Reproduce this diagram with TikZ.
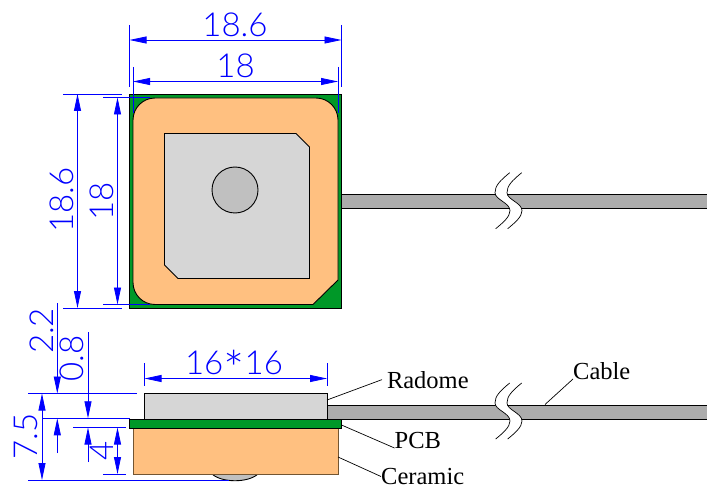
\documentclass[tikz,border=0pt]{standalone}
\usepackage{fontspec}
\newfontfamily\labelfont{Liberation Serif}
\newfontfamily\dimfont[UprightFont=* Light]{Lato}
\usetikzlibrary{arrows.meta}
\definecolor{pcbgreen}{RGB}{0,152,40}
\definecolor{ceramic}{RGB}{255,192,128}
\definecolor{ceramicedge}{RGB}{115,85,50}
\definecolor{radome}{RGB}{214,214,214}
\definecolor{feed}{RGB}{192,192,192}
\definecolor{wire}{RGB}{172,172,172}
\tikzset{
    dimtext/.style={inner sep=0, text=blue, font=\dimfont\fontsize{33}{33}\selectfont},
    dimline/.style={blue, line width=0.8pt},
    dimboth/.style={dimline, {Triangle[length=17pt,width=7pt]}-{Triangle[length=17pt,width=7pt]}},
    dimend/.style={dimline, -{Triangle[length=17pt,width=7pt]}},
    extline/.style={blue, line width=0.8pt},
    partlabel/.style={inner sep=0, font=\labelfont\fontsize{24.5}{24.5}\selectfont},
    leader/.style={line width=0.7pt},
    outline/.style={line width=0.9pt}
}
\begin{document}
\begin{tikzpicture}[x=1pt, y=-1pt]
    \useasboundingbox (0, 0) rectangle (707, 489);

    % top view
    \draw[outline, fill=wire] (341.5, 194.3) rectangle (707, 208.3);
    \draw[outline, fill=pcbgreen] (129.5, 94) rectangle (341.5, 308);
    \draw[outline, fill=ceramic, rounded corners=22pt] (133, 200) -- (133, 98) -- (338, 98)
        -- (338, 200) [sharp corners] -- (338, 280) -- (313, 304.5) -- (200, 304.5)
        [rounded corners=22pt] -- (133, 304.5) -- cycle;
    \draw[outline, fill=radome] (164.5, 133.5) -- (296, 133.5) -- (309.5, 147)
        -- (309.5, 278.5) -- (178, 278.5) -- (164.5, 265) -- cycle;
    \draw[outline, fill=feed] (235, 190) circle (23);

    % side view
    \draw[outline, fill=wire] (327, 405) rectangle (707, 419);
    \draw[outline, fill=feed] (212, 474) .. controls (222, 483) and (248, 483) .. (258, 474) -- cycle;
    \draw[outline, draw=ceramicedge, fill=ceramic] (133, 428) rectangle (338, 474);
    \draw[outline, fill=radome] (144.5, 393.5) rectangle (327, 419);
    \draw[outline, fill=pcbgreen] (129.5, 419) rectangle (341.5, 428);

    % cable breaks
    \foreach \y in {172.7, 383} {
        \fill[white] (509.7, \y) .. controls (500, \y+8) and (495, \y+13) .. (495, \y+20)
            .. controls (495, \y+27) and (510, \y+30) .. (510, \y+38)
            .. controls (510, \y+44) and (503, \y+50) .. (495.7, \y+56)
            -- (507.7, \y+56) .. controls (515, \y+50) and (522, \y+44) .. (522, \y+38)
            .. controls (522, \y+30) and (507, \y+27) .. (507, \y+20)
            .. controls (507, \y+13) and (512, \y+8) .. (521.7, \y) -- cycle;
        \foreach \x in {0, 12} {
            \draw[leader] (509.7+\x, \y) .. controls (500+\x, \y+8) and (495+\x, \y+13) .. (495+\x, \y+20)
                .. controls (495+\x, \y+27) and (510+\x, \y+30) .. (510+\x, \y+38)
                .. controls (510+\x, \y+44) and (503+\x, \y+50) .. (495.7+\x, \y+56);
        }
    }

    % extension lines
    \foreach \x in {129.5, 341.5} {
        \draw[extline] (\x, 25) to (\x, 87);
    }
    \foreach \x in {133, 338} {
        \draw[extline] (\x, 67) to (\x, 113);
    }
    \foreach \y in {94, 308} {
        \draw[extline] (63, \y) to (122, \y);
    }
    \foreach \y in {97.5, 304.5} {
        \draw[extline] (103, \y) to (150, \y);
    }
    \foreach \x in {144.5, 327} {
        \draw[extline] (\x, 363) to (\x, 386);
    }
    \draw[extline] (28, 393.5) to (137, 393.5);
    \draw[extline] (43, 418.3) to (130, 418.3);
    \draw[extline] (73, 427.5) to (126, 427.5);
    \draw[extline] (103, 474) to (126, 474);
    \draw[extline] (28, 480) to (229, 480);

    % dimension lines
    \coordinate (widtha) at (129.5, 40);
    \coordinate (widthb) at (341.5, 40);
    \coordinate (innera) at (133, 81.5);
    \coordinate (innerb) at (338, 81.5);
    \coordinate (heighta) at (77.5, 94);
    \coordinate (heightb) at (77.5, 308);
    \coordinate (tallera) at (117.5, 97.5);
    \coordinate (tallerb) at (117.5, 304.5);
    \coordinate (domea) at (144.5, 378.5);
    \coordinate (domeb) at (327, 378.5);
    \coordinate (totala) at (42, 393.5);
    \coordinate (totalb) at (42, 480);
    \coordinate (cerama) at (117.5, 427.5);
    \coordinate (ceramb) at (117.5, 474);
    \draw[dimboth] (widtha) to (widthb);
    \draw[dimboth] (innera) to (innerb);
    \draw[dimboth] (heighta) to (heightb);
    \draw[dimboth] (tallera) to (tallerb);
    \draw[dimboth] (domea) to (domeb);
    \draw[dimboth] (totala) to (totalb);
    \draw[dimboth] (cerama) to (ceramb);
    \draw[dimend] (57.3, 303) to (57.3, 393.5);
    \draw[dimend] (57.3, 453) to (57.3, 418.3);
    \draw[dimend] (88, 332) to (88, 418.3);
    \draw[dimend] (88, 462) to (88, 427.5);

    % dimension texts
    \node[dimtext] (dimwidth) at (235, 24.5) {18.6};
    \node[dimtext] (diminner) at (235.5, 65.5) {18};
    \node[dimtext, rotate=90] (dimheight) at (62, 200) {18.6};
    \node[dimtext, rotate=90] (dimtaller) at (102, 201.5) {18};
    \node[dimtext, rotate=90] (dimpcbgap) at (42, 331) {2.2};
    \node[dimtext, rotate=90] (dimpcb) at (72, 358.5) {0.8};
    \node[dimtext, rotate=90] (dimtotal) at (26, 436.5) {7.5};
    \node[dimtext, rotate=90] (dimceram) at (102, 451) {4};
    \node[dimtext, anchor=base] (dimdome) at (234, 374) {16\raisebox{-0.42em}{\fontsize{50}{50}\selectfont *}16};

    % part labels
    \node[partlabel, anchor=base west, outer xsep=5pt] (radomelabel) at (382, 388) {Radome};
    \node[partlabel, anchor=base west] (pcblabel) at (394.5, 448) {PCB};
    \node[partlabel, anchor=base west] (ceramiclabel) at (381, 484.5) {Ceramic};
    \node[partlabel, anchor=base west] (cablelabel) at (573, 379) {Cable};
    \coordinate (radomepoint) at (327, 400);
    \coordinate (pcbpoint) at (341.5, 425);
    \coordinate (ceramicpoint) at (338, 457);
    \coordinate (cablepoint) at (545, 404.5);
    \draw[leader] (radomelabel.west) to (radomepoint);
    \draw[leader] (pcblabel.base west) to (pcbpoint);
    \draw[leader] (ceramiclabel.west) to (ceramicpoint);
    \draw[leader] (cablelabel.base west) to (cablepoint);
\end{tikzpicture}
\end{document}
